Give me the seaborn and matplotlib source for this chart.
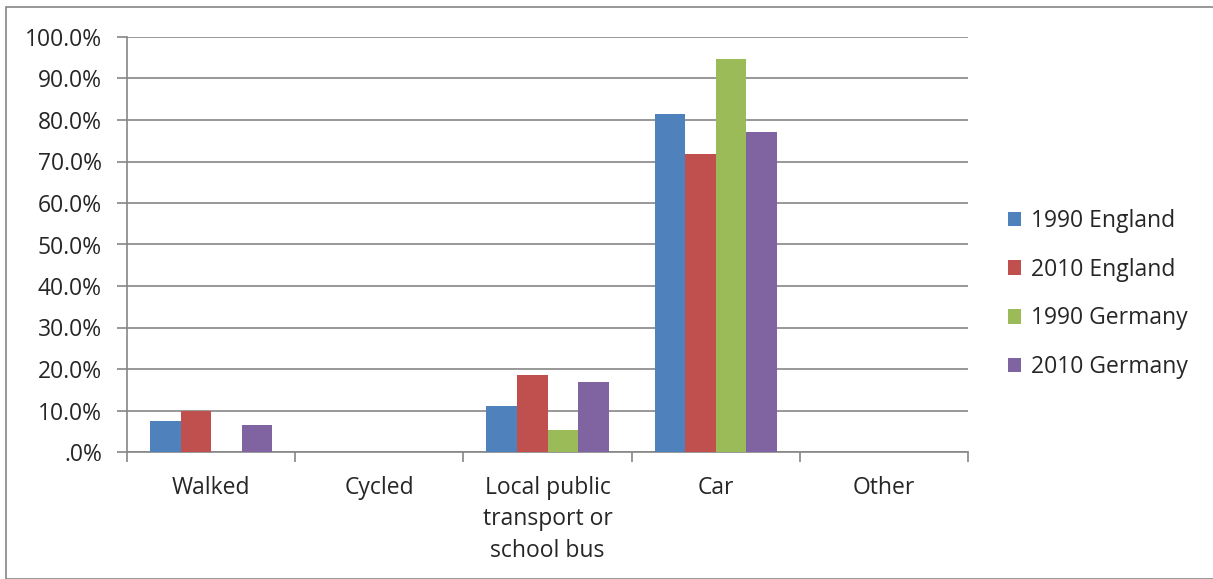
import numpy as np
import pandas as pd
import matplotlib
matplotlib.use("Agg")
import matplotlib.pyplot as plt
from matplotlib.patches import Rectangle
from matplotlib.ticker import FuncFormatter
import seaborn as sns

# data (percent of trips)
categories = ["Walked", "Cycled", "Local public\ntransport or\nschool bus", "Car", "Other"]
series = ["1990 England", "2010 England", "1990 Germany", "2010 Germany"]
eng_1990 = [7.5, 0.0, 11.2, 81.5, 0.0]
eng_2010 = [10.0, 0.0, 18.5, 71.9, 0.0]
ger_1990 = [0.0, 0.0, 5.4, 94.8, 0.0]
ger_2010 = [6.4, 0.0, 16.8, 77.1, 0.0]
colors = ["#4F81BD", "#C0504D", "#9BBB59", "#8064A2"]

rows = []
for name, vals in zip(series, [eng_1990, eng_2010, ger_1990, ger_2010]):
    for cat, v in zip(categories, vals):
        rows.append({"mode": cat, "series": name, "share": v})
df = pd.DataFrame(rows)

sns.set_style("white")
plt.rcParams["font.family"] = ["Open Sans", "DejaVu Sans"]
FS = 16.5

fig = plt.figure(figsize=(12.13, 5.79), dpi=100)
ax = fig.add_axes([127 / 1213, 1 - 452 / 579, (968 - 127) / 1213, (452 - 37) / 579])

sns.barplot(data=df, x="mode", y="share", hue="series", hue_order=series,
            order=categories, palette=colors, width=4 / 5.5, saturation=1,
            errorbar=None, ax=ax, zorder=3, linewidth=0)

ax.set_ylim(0, 100)
ax.set_xlim(-0.5, 4.5)
ax.set_yticks(np.arange(0, 101, 10))
ax.yaxis.set_major_formatter(FuncFormatter(lambda v, p: ".0%" if v == 0 else f"{v:.1f}%"))
ax.grid(axis="y", color="#868686", linewidth=1.2, zorder=0)
ax.set_axisbelow(True)
ax.set_xlabel("")
ax.set_ylabel("")

# category separators as minor ticks on x
ax.set_xticks(np.arange(-0.5, 5, 1), minor=True)
ax.tick_params(axis="x", which="major", length=0, pad=17, labelsize=FS)
ax.tick_params(axis="x", which="minor", length=7, width=1.2, color="#868686", direction="out")
ax.tick_params(axis="y", which="major", length=7, width=1.2, color="#868686",
               direction="out", labelsize=FS, pad=11)
ax.xaxis.set_tick_params(bottom=True, which="minor")
ax.yaxis.set_tick_params(left=True)
for lbl in ax.get_xticklabels():
    lbl.set_linespacing(1.42)

for side in ["top", "right"]:
    ax.spines[side].set_visible(False)
for side in ["left", "bottom"]:
    ax.spines[side].set_color("#868686")
    ax.spines[side].set_linewidth(1.2)

leg = ax.legend(loc="center left", bbox_to_anchor=(987 / 1213, 1 - 294 / 579),
                bbox_transform=fig.transFigure, frameon=False, fontsize=FS,
                handlelength=0.6, handleheight=0.6, handletextpad=0.4,
                labelspacing=1.08)

fig.patches.append(Rectangle((6 / 1213, 0), 1.2, 1 - 7 / 579, transform=fig.transFigure,
                             fill=False, edgecolor="#868686", linewidth=1.2))

fig.savefig("out.png", dpi=100)
